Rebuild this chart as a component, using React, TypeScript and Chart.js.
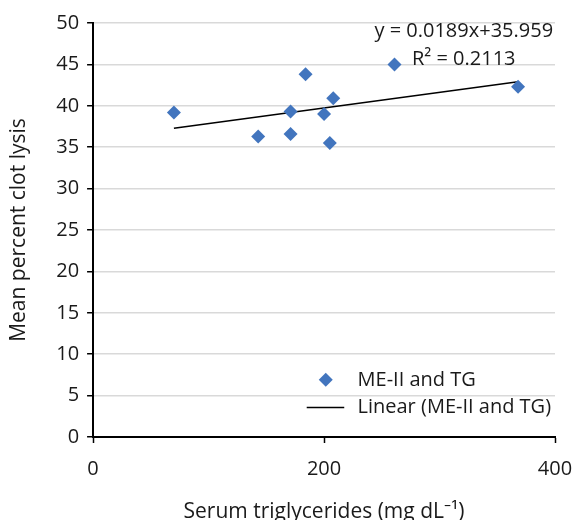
import React, { useEffect, useRef } from "react";
import { Chart, registerables } from "chart.js";

Chart.register(...registerables);

const seriesLabel = "ME-II and TG";
const trendLabel = "Linear (ME-II and TG)";
const triglycerides = [70, 143, 171, 171, 184, 200, 205, 208, 261, 368];
const clotLysis = [39.2, 36.3, 39.3, 36.6, 43.8, 39.0, 35.5, 40.9, 45.0, 42.3];
const trendX = [70, 368];
const trendY = [37.28, 42.91];
const equationLines = ["y = 0.0189x+35.959", "R² = 0.2113"];
const xTitle = "Serum triglycerides (mg dL⁻¹)";
const yTitle = "Mean percent clot lysis";

const FONT = "'Open Sans', 'Noto Sans', sans-serif";
const BLUE = "#4275be";
const TEXT = "#1a1a1a";

const overlayPlugin = {
  id: "overlay",
  afterDraw(chart: any) {
    const ctx = chart.ctx;
    const xs = chart.scales.x;
    const ys = chart.scales.y;
    ctx.save();
    ctx.font = `20px ${FONT}`;
    ctx.fillStyle = TEXT;
    ctx.textAlign = "center";
    ctx.textBaseline = "middle";
    // regression equation
    ctx.fillText(equationLines[0], xs.getPixelForValue(321), ys.getPixelForValue(49.0));
    ctx.fillText(equationLines[1], xs.getPixelForValue(321), ys.getPixelForValue(45.65));
    // legend
    ctx.textAlign = "left";
    const lx = xs.getPixelForValue(229);
    const y1 = ys.getPixelForValue(6.9);
    const y2 = ys.getPixelForValue(3.55);
    const mx = xs.getPixelForValue(201.5);
    ctx.fillStyle = BLUE;
    ctx.beginPath();
    ctx.moveTo(mx, y1 - 7);
    ctx.lineTo(mx + 7, y1);
    ctx.lineTo(mx, y1 + 7);
    ctx.lineTo(mx - 7, y1);
    ctx.closePath();
    ctx.fill();
    ctx.strokeStyle = "#000";
    ctx.lineWidth = 1.5;
    ctx.beginPath();
    ctx.moveTo(xs.getPixelForValue(185), y2);
    ctx.lineTo(xs.getPixelForValue(217.5), y2);
    ctx.stroke();
    ctx.fillStyle = TEXT;
    ctx.fillText(seriesLabel, lx, y1);
    ctx.fillText(trendLabel, lx, y2);
    ctx.restore();
  },
};

export default function App() {
  const ref = useRef<HTMLCanvasElement | null>(null);
  useEffect(() => {
    if (!ref.current) return;
    const chart = new Chart(ref.current, {
      type: "scatter",
      data: {
        datasets: [
          {
            label: seriesLabel,
            data: triglycerides.map((x, i) => ({ x, y: clotLysis[i] })),
            pointStyle: "rectRot",
            pointRadius: 7,
            backgroundColor: BLUE,
            borderColor: BLUE,
            borderWidth: 0,
            order: 1,
          },
          {
            type: "line",
            label: trendLabel,
            data: trendX.map((x, i) => ({ x, y: trendY[i] })),
            borderColor: "#000",
            borderWidth: 1.5,
            pointRadius: 0,
            fill: false,
            order: 2,
          } as any,
        ],
      },
      options: {
        animation: false,
        responsive: false,
        devicePixelRatio: 1,
        layout: { autoPadding: false, padding: { top: 23, right: 0, left: 6, bottom: 0 } },
        plugins: { legend: { display: false }, tooltip: { enabled: false } },
        scales: {
          x: {
            type: "linear",
            min: 0,
            max: 400,
            afterFit: (s: any) => {
              s.paddingRight = 18;
            },
            ticks: { stepSize: 200, color: TEXT, font: { family: FONT, size: 20 }, padding: 14 },
            grid: { drawOnChartArea: false, drawTicks: true, tickLength: 6, tickColor: "#000", tickWidth: 1.5 },
            border: { color: "#000", width: 2 },
            title: { display: true, text: xTitle, color: TEXT, font: { family: FONT, size: 21, lineHeight: 1 }, padding: { top: 7, bottom: -3 } },
          },
          y: {
            min: 0,
            max: 50,
            ticks: { stepSize: 5, color: TEXT, font: { family: FONT, size: 20 }, padding: 8 },
            grid: { color: "#d9d9d9", lineWidth: 1.5, tickLength: 6, tickColor: "#000", tickWidth: 1.5 },
            border: { color: "#000", width: 2 },
            title: { display: true, text: yTitle, color: TEXT, font: { family: FONT, size: 21 }, padding: { top: 0, bottom: 17 } },
          },
        },
      },
      plugins: [overlayPlugin],
    });
    return () => chart.destroy();
  }, []);
  return (
    <div style={{ position: "absolute", left: 0, top: 0, width: 573, height: 520, background: "#fff" }}>
      <canvas ref={ref} width={573} height={520} style={{ display: "block" }} />
    </div>
  );
}
